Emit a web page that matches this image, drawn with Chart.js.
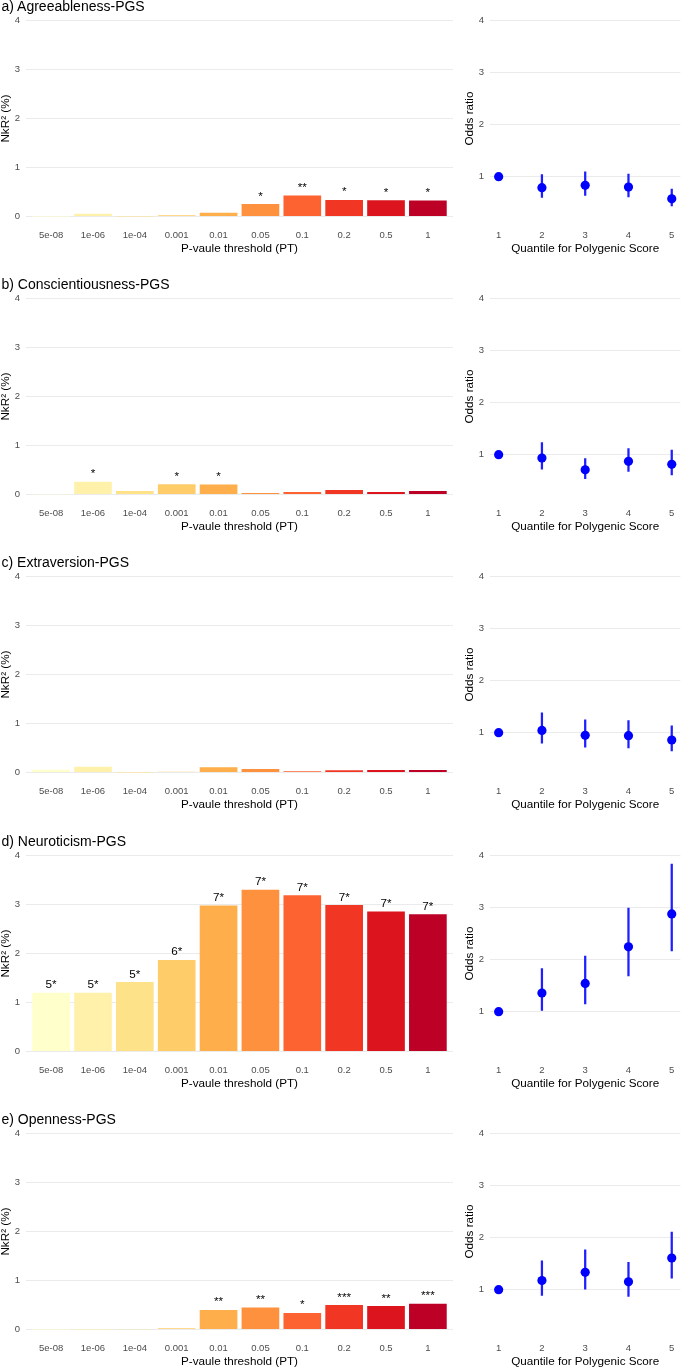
<!DOCTYPE html>
<html>
<head>
<meta charset="utf-8">
<script src="https://cdn.jsdelivr.net/npm/chart.js@4.4.1/dist/chart.umd.min.js"></script>
<style>
  body { margin: 0; background: #fff; width: 685px; height: 1368px; overflow: hidden; position: relative; }
  .row { position: absolute; left: 0; width: 685px; height: 256px; }
  .ttl { position: absolute; left: 1.5px; top: -1.3px; font: 14px/14px "Liberation Sans", Arial, sans-serif; white-space: nowrap; color: #000; }
  .row canvas { position: absolute; top: 0; }
</style>
</head>
<body>
<script>
// P-value thresholds (x categories of the bar panels)
const thresholds = ['5e-08', '1e-06', '1e-04', '0.001', '0.01', '0.05', '0.1', '0.2', '0.5', '1'];
const barColors = ['#FFFFCC', '#FFF1A9', '#FEE289', '#FECC68', '#FEAE4A', '#FD913E', '#FC6330', '#F13724', '#DB141E', '#BD0026'];
const quantiles = [1, 2, 3, 4, 5];
const panelTitles = ['a) Agreeableness-PGS', 'b) Conscientiousness-PGS', 'c) Extraversion-PGS', 'd) Neuroticism-PGS', 'e) Openness-PGS'];

// NkR2 (%) per threshold
const agreeR2 = [0.002, 0.06, 0.003, 0.025, 0.08, 0.255, 0.43, 0.34, 0.335, 0.33];
const conscR2 = [0.005, 0.26, 0.073, 0.213, 0.207, 0.033, 0.053, 0.093, 0.053, 0.073];
const extraR2 = [0.06, 0.12, 0.003, 0.015, 0.107, 0.074, 0.03, 0.047, 0.054, 0.054];
const neuroR2 = [1.20, 1.20, 1.42, 1.87, 2.98, 3.30, 3.19, 2.99, 2.86, 2.80];
const openR2 = [0.001, 0.002, 0.007, 0.027, 0.40, 0.45, 0.34, 0.50, 0.48, 0.527];

// significance labels above bars
const agreeSig = ['', '', '', '', '', '*', '**', '*', '*', '*'];
const conscSig = ['', '*', '', '*', '*', '', '', '', '', ''];
const extraSig = ['', '', '', '', '', '', '', '', '', ''];
const neuroSig = ['5*', '5*', '5*', '6*', '7*', '7*', '7*', '7*', '7*', '7*'];
const openSig = ['', '', '', '', '**', '**', '*', '***', '**', '***'];

// odds ratios per quantile with CI
const agreeOR = [1.0, 0.79, 0.835, 0.80, 0.575];
const agreeLo = [1.0, 0.60, 0.64, 0.61, 0.44];
const agreeHi = [1.0, 1.04, 1.095, 1.05, 0.76];
const conscOR = [1.0, 0.937, 0.71, 0.873, 0.816];
const conscLo = [1.0, 0.72, 0.54, 0.68, 0.61];
const conscHi = [1.0, 1.234, 0.924, 1.12, 1.09];
const extraOR = [1.0, 1.044, 0.95, 0.943, 0.86];
const extraLo = [1.0, 0.80, 0.72, 0.71, 0.65];
const extraHi = [1.0, 1.38, 1.25, 1.234, 1.13];
const neuroOR = [1.0, 1.36, 1.544, 2.247, 2.88];
const neuroLo = [1.0, 1.025, 1.15, 1.69, 2.17];
const neuroHi = [1.0, 1.83, 2.07, 2.99, 3.84];
const openOR = [1.0, 1.177, 1.335, 1.152, 1.61];
const openLo = [1.0, 0.89, 1.01, 0.87, 1.22];
const openHi = [1.0, 1.557, 1.766, 1.525, 2.11];

const panels = [
  { r2: agreeR2, sig: agreeSig, or: agreeOR, lo: agreeLo, hi: agreeHi },
  { r2: conscR2, sig: conscSig, or: conscOR, lo: conscLo, hi: conscHi },
  { r2: extraR2, sig: extraSig, or: extraOR, lo: extraLo, hi: extraHi },
  { r2: neuroR2, sig: neuroSig, or: neuroOR, lo: neuroLo, hi: neuroHi },
  { r2: openR2, sig: openSig, or: openOR, lo: openLo, hi: openHi }
];

Chart.defaults.font.family = '"Liberation Sans", Arial, sans-serif';

const tickFont = { size: 9.5, lineHeight: 1 };
const titleFont = { size: 11.7, lineHeight: 1 };

// draws the significance text above each bar
const barText = {
  id: 'barText',
  afterDatasetsDraw(chart) {
    const ds = chart.data.datasets[0];
    const meta = chart.getDatasetMeta(0);
    const c = chart.ctx;
    c.save();
    c.font = '11.7px "Liberation Sans", Arial, sans-serif';
    c.fillStyle = '#000';
    c.textAlign = 'center';
    c.textBaseline = 'alphabetic';
    meta.data.forEach((el, i) => {
      if (ds.sig[i]) c.fillText(ds.sig[i], el.x, el.y - 4.5);
    });
    c.restore();
  }
};

function makeCanvas(row, left, w, h) {
  const cv = document.createElement('canvas');
  cv.width = w; cv.height = h;
  cv.style.left = left + 'px';
  row.appendChild(cv);
  return cv.getContext('2d');
}

panels.forEach((p, k) => {
  const row = document.createElement('div');
  row.className = 'row';
  row.style.top = Math.round(278.2 * k) + 'px';
  document.body.appendChild(row);

  // left: NkR2 bars
  const ctxL = makeCanvas(row, 0, 455, 255);
  new Chart(ctxL, {
    type: 'bar',
    data: {
      datasets: [{
        data: p.r2.map((v, i) => ({ x: i + 1, y: v })),
        backgroundColor: barColors,
        borderWidth: 0,
        barPercentage: 0.9,
        categoryPercentage: 1,
        sig: p.sig
      }]
    },
    options: {
      responsive: false,
      animation: false,
      events: [],
      layout: { padding: { top: 8.1, right: 2, bottom: 0, left: 0 } },
      plugins: { legend: { display: false }, tooltip: { enabled: false } },
      scales: {
        x: {
          type: 'linear', min: 0.4, max: 10.6, bounds: 'data', offset: false,
          grid: { display: false, drawTicks: false, offset: false }, border: { display: false },
          afterBuildTicks: s => { s.ticks = thresholds.map((t, i) => ({ value: i + 1 })); },
          afterFit: s => { s.height = 28.6; },
          ticks: { padding: 4, color: '#4d4d4d', font: tickFont, maxRotation: 0, autoSkip: false,
                   callback: v => thresholds[v - 1] },
          title: { display: true, text: 'P-vaule threshold (PT)', color: '#000', font: titleFont, padding: { top: 0, bottom: 0 } }
        },
        y: {
          min: -0.2, max: 4.2, bounds: 'data',
          afterBuildTicks: s => { s.ticks = [0, 1, 2, 3, 4].map(v => ({ value: v })); },
          afterFit: s => { s.width = 26; },
          grid: { color: '#ebebeb', lineWidth: 1, drawTicks: false }, border: { display: false },
          ticks: { padding: 6, color: '#4d4d4d', font: tickFont },
          title: { display: true, text: 'NkR² (%)', color: '#000', font: titleFont, padding: { top: 0, bottom: 0 } }
        }
      }
    },
    plugins: [barText]
  });

  // right: odds ratios with CI
  const ctxR = makeCanvas(row, 460, 225, 255);
  new Chart(ctxR, {
    type: 'bar',
    data: {
      datasets: [
        {
          type: 'scatter',
          data: p.or.map((v, i) => ({ x: quantiles[i], y: v })),
          backgroundColor: '#0000ff',
          borderWidth: 0,
          pointRadius: 4.6,
          order: 0
        },
        {
          type: 'bar',
          data: p.lo.map((v, i) => ({ x: quantiles[i], y: [v, p.hi[i]] })),
          backgroundColor: '#1f1fff',
          borderWidth: 0,
          barThickness: 1.6,
          order: 1
        }
      ]
    },
    options: {
      responsive: false,
      animation: false,
      events: [],
      layout: { padding: { top: 8.1, right: 0, bottom: 0, left: 0 } },
      plugins: { legend: { display: false }, tooltip: { enabled: false } },
      scales: {
        x: {
          type: 'linear', min: 0.8, max: 5.2, bounds: 'data', offset: false,
          grid: { display: false, drawTicks: false, offset: false }, border: { display: false },
          afterBuildTicks: s => { s.ticks = quantiles.map(v => ({ value: v })); },
          afterFit: s => { s.height = 28.6; },
          ticks: { padding: 4, color: '#4d4d4d', font: tickFont, maxRotation: 0, autoSkip: false },
          title: { display: true, text: 'Quantile for Polygenic Score', color: '#000', font: titleFont, padding: { top: 0, bottom: 0 } }
        },
        y: {
          min: 0.045, max: 4.19, bounds: 'data',
          afterBuildTicks: s => { s.ticks = [1, 2, 3, 4].map(v => ({ value: v })); },
          afterFit: s => { s.width = 30; },
          grid: { color: '#ebebeb', lineWidth: 1, drawTicks: false }, border: { display: false },
          ticks: { padding: 6, color: '#4d4d4d', font: tickFont },
          title: { display: true, text: 'Odds ratio', color: '#000', font: titleFont, padding: { top: 3.5, bottom: 0 } }
        }
      }
    }
  });

  const t = document.createElement('div');
  t.className = 'ttl';
  t.textContent = panelTitles[k];
  row.appendChild(t);
});
</script>
</body>
</html>
